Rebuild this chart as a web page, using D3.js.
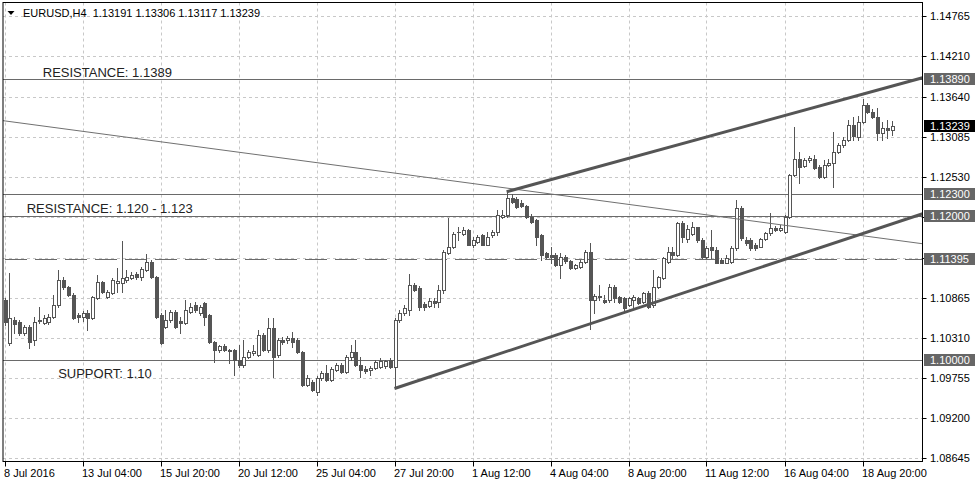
<!DOCTYPE html>
<html><head><meta charset="utf-8">
<script src="https://cdn.jsdelivr.net/npm/d3@7"></script>
<style>
html,body{margin:0;padding:0;background:#fff;}
svg{display:block;font-family:"Liberation Sans",Arial,sans-serif;}
</style></head><body>
<svg id="c" width="975" height="488"></svg>
<script>
// ---- DATA (EURUSD H4, 8 Jul 2016 12:00 .. 19 Aug 2016 20:00) ----
const symbol = "EURUSD,H4";
const openP = [1.1083,1.1024,1.1056,1.1053,1.1038,1.1046,1.1028,1.1054,1.1052,1.1053,
1.1060,1.1076,1.1111,1.1101,1.1090,1.1062,1.1060,1.1066,1.1059,1.1086,
1.1108,1.1088,1.1093,1.1107,1.1107,1.1111,1.1114,1.1120,1.1115,1.1125,
1.1136,1.1115,1.1063,1.1046,1.1056,1.1067,1.1054,1.1052,1.1067,1.1076,
1.1066,1.1079,1.1063,1.1025,1.1014,1.1020,1.1014,1.1014,1.1000,1.0994,
1.1005,1.1010,1.1007,1.1035,1.1014,1.1045,1.1007,1.1028,1.1028,1.1031,
1.1028,1.1011,1.0966,1.0970,1.0956,1.0976,1.0983,1.0973,1.0987,1.0994,
1.0984,1.1005,1.1011,1.0994,1.0988,1.0987,1.0989,1.0991,1.0992,1.1000,
1.0991,1.1056,1.1066,1.1070,1.1104,1.1100,1.1078,1.1075,1.1082,1.1081,
1.1097,1.1149,1.1156,1.1177,1.1175,1.1180,1.1160,1.1163,1.1173,1.1160,
1.1173,1.1177,1.1198,1.1201,1.1225,1.1223,1.1218,1.1213,1.1198,1.1194,
1.1173,1.1149,1.1146,1.1146,1.1132,1.1143,1.1137,1.1128,1.1129,1.1136,
1.1150,1.1083,1.1087,1.1083,1.1083,1.1102,1.1087,1.1086,1.1076,1.1083,
1.1086,1.1081,1.1093,1.1076,1.1101,1.1114,1.1136,1.1150,1.1146,1.1190,
1.1168,1.1174,1.1184,1.1167,1.1143,1.1156,1.1153,1.1139,1.1135,1.1136,
1.1155,1.1211,1.1167,1.1167,1.1160,1.1157,1.1168,1.1176,1.1183,1.1180,
1.1177,1.1198,1.1256,1.1278,1.1269,1.1277,1.1278,1.1267,1.1253,1.1270,
1.1273,1.1288,1.1298,1.1305,1.1326,1.1309,1.1330,1.1353,1.1343,1.1336,
1.1314,1.1321,1.13191];
const highP = [1.1086,1.1121,1.1060,1.1056,1.1049,1.1049,1.1060,1.1074,1.1063,1.1064,
1.1090,1.1125,1.1115,1.1103,1.1093,1.1066,1.1068,1.1070,1.1089,1.1118,
1.1110,1.1097,1.1114,1.1128,1.1165,1.1125,1.1122,1.1122,1.1129,1.1147,
1.1139,1.1117,1.1066,1.1070,1.1070,1.1070,1.1060,1.1083,1.1079,1.1081,
1.1076,1.1081,1.1064,1.1027,1.1021,1.1022,1.1015,1.1015,1.1021,1.1028,
1.1014,1.1021,1.1042,1.1038,1.1059,1.1059,1.1031,1.1032,1.1033,1.1039,
1.1031,1.1013,1.0980,1.0973,1.0978,1.0985,1.0994,1.0991,1.0996,1.0996,
1.1007,1.1021,1.1028,1.1005,1.0992,1.0992,1.1000,1.1003,1.1001,1.1003,
1.1059,1.1070,1.1076,1.1119,1.1107,1.1103,1.1081,1.1086,1.1086,1.1104,
1.1153,1.1197,1.1177,1.1184,1.1184,1.1181,1.1171,1.1173,1.1174,1.1177,
1.1180,1.1208,1.1208,1.1233,1.1230,1.1226,1.1221,1.1215,1.1202,1.1195,
1.1174,1.1150,1.1157,1.1149,1.1149,1.1146,1.1139,1.1133,1.1139,1.1153,
1.1162,1.1091,1.1104,1.1090,1.1105,1.1104,1.1089,1.1087,1.1087,1.1090,
1.1087,1.1094,1.1096,1.1125,1.1117,1.1143,1.1157,1.1157,1.1191,1.1192,
1.1187,1.1191,1.1185,1.1169,1.1158,1.1180,1.1156,1.1142,1.1146,1.1158,
1.1222,1.1213,1.1170,1.1169,1.1162,1.1169,1.1177,1.1204,1.1186,1.1187,
1.1201,1.1257,1.1323,1.1288,1.1280,1.1283,1.1284,1.1270,1.1277,1.1278,
1.1315,1.1300,1.1309,1.1332,1.1336,1.1338,1.1361,1.1356,1.1347,1.1349,
1.1330,1.1332,1.13306];
const lowP = [1.1049,1.1021,1.1038,1.1035,1.1035,1.1017,1.1021,1.1052,1.1050,1.1050,
1.1059,1.1074,1.1099,1.1089,1.1057,1.1053,1.1054,1.1042,1.1057,1.1085,
1.1093,1.1086,1.1092,1.1094,1.1094,1.1108,1.1113,1.1113,1.1111,1.1124,
1.1114,1.1059,1.1022,1.1045,1.1053,1.1045,1.1038,1.1050,1.1066,1.1067,
1.1063,1.1049,1.1024,1.0998,1.1011,1.1013,1.0996,1.0980,1.0991,1.0991,
1.1003,1.1007,1.1006,1.1013,1.1011,1.0977,1.1005,1.1022,1.1024,1.1018,
1.1010,1.0965,1.0965,1.0958,1.0952,1.0973,1.0971,1.0971,1.0985,1.0983,
1.0983,1.1000,1.0992,1.0977,1.0983,1.0980,1.0988,1.0989,1.0989,1.0989,
1.0962,1.1053,1.1063,1.1063,1.1096,1.1070,1.1070,1.1074,1.1074,1.1074,
1.1093,1.1147,1.1155,1.1166,1.1173,1.1159,1.1156,1.1162,1.1159,1.1159,
1.1171,1.1173,1.1197,1.1198,1.1218,1.1211,1.1212,1.1197,1.1190,1.1160,
1.1139,1.1142,1.1135,1.1131,1.1114,1.1135,1.1126,1.1126,1.1128,1.1135,
1.1043,1.1066,1.1083,1.1079,1.1081,1.1081,1.1079,1.1070,1.1075,1.1074,
1.1078,1.1079,1.1072,1.1074,1.1100,1.1113,1.1135,1.1142,1.1144,1.1164,
1.1163,1.1173,1.1164,1.1142,1.1142,1.1142,1.1134,1.1134,1.1134,1.1135,
1.1153,1.1166,1.1160,1.1153,1.1153,1.1156,1.1166,1.1173,1.1179,1.1179,
1.1176,1.1197,1.1255,1.1245,1.1267,1.1274,1.1264,1.1252,1.1252,1.1269,
1.1240,1.1287,1.1295,1.1303,1.1305,1.1305,1.1328,1.1342,1.1335,1.1305,
1.1305,1.1308,1.13117];
const closeP = [1.1053,1.1059,1.1050,1.1038,1.1046,1.1025,1.1053,1.1056,1.1059,1.1060,
1.1076,1.1111,1.1101,1.1090,1.1059,1.1060,1.1066,1.1059,1.1088,1.1108,
1.1094,1.1094,1.1111,1.1110,1.1114,1.1115,1.1118,1.1115,1.1126,1.1136,
1.1115,1.1060,1.1024,1.1056,1.1067,1.1046,1.1052,1.1070,1.1074,1.1070,
1.1074,1.1060,1.1025,1.1014,1.1020,1.1014,1.1013,1.1000,1.0994,1.1005,
1.1011,1.1013,1.1035,1.1014,1.1045,1.1005,1.1028,1.1025,1.1031,1.1025,
1.1011,1.0966,1.0976,1.0959,1.0976,1.0983,1.0973,1.0988,1.0994,1.0984,
1.1005,1.1011,1.0994,1.0987,1.0985,1.0989,1.0998,1.0999,1.0999,1.0991,
1.1056,1.1066,1.1072,1.1104,1.1097,1.1074,1.1074,1.1082,1.1079,1.1097,
1.1150,1.1157,1.1175,1.1178,1.1180,1.1160,1.1166,1.1171,1.1160,1.1171,
1.1177,1.1201,1.1201,1.1225,1.1219,1.1212,1.1213,1.1198,1.1191,1.1170,
1.1146,1.1143,1.1143,1.1132,1.1143,1.1137,1.1128,1.1132,1.1136,1.1150,
1.1083,1.1089,1.1089,1.1081,1.1102,1.1086,1.1081,1.1072,1.1086,1.1087,
1.1079,1.1093,1.1074,1.1101,1.1115,1.1142,1.1150,1.1146,1.1190,1.1170,
1.1182,1.1184,1.1166,1.1143,1.1155,1.1153,1.1135,1.1135,1.1142,1.1155,
1.1211,1.1169,1.1162,1.1155,1.1155,1.1168,1.1176,1.1183,1.1180,1.1183,
1.1198,1.1256,1.1278,1.1267,1.1277,1.1280,1.1266,1.1253,1.1270,1.1273,
1.1288,1.1298,1.1305,1.1326,1.1310,1.1330,1.1353,1.1343,1.1336,1.1314,
1.1321,1.1319,1.13239];

const timeTickBars = [0,16,32,48,64,80,96,112,128,144,160,176];
const timeTickLabels = ["8 Jul 2016","13 Jul 04:00","15 Jul 20:00","20 Jul 12:00","25 Jul 04:00",
  "27 Jul 20:00","1 Aug 12:00","4 Aug 04:00","8 Aug 20:00","11 Aug 12:00","16 Aug 04:00","18 Aug 20:00"];
const priceTicks = [1.14765,1.14210,1.13640,1.13085,1.12530,1.11975,1.11420,1.10865,1.10310,1.09755,1.09200,1.08645];

const solidLevels = [1.1389, 1.1230, 1.1200, 1.1000];
const dashedLevels = [1.11395];
const markedLevels = [1.13890, 1.12300, 1.12000, 1.11395, 1.10000];
const lastPrice = 1.13239;

// trend lines: [bar index, price]
const channelUpper = [[103, 1.1233], [188.5, 1.1391]];
const channelLower = [[80, 1.0961], [188.5, 1.1203]];
const diagonalThin = [[-1, 1.1332], [188.5, 1.1161]];

const noteTexts = ["RESISTANCE: 1.1389", "RESISTANCE: 1.120 - 1.123", "SUPPORT: 1.10"];
const noteBars = [7.85, 4.55, 11.0];
const notePrices = [1.1389, 1.1200, 1.1000];

// ---- LAYOUT ----
const W = 975, H = 488;
const L = 3, R = 922.5, T = 2.5, B = 461.5;
const svg = d3.select("#c");
svg.append("rect").attr("width", W).attr("height", H).attr("fill", "#fff");

const x = d3.scaleLinear().domain([0, 182]).range([4.5, 4.5 + 4.875 * 182]);
const y = d3.scaleLinear().domain([1.08645, 1.14765]).range([458.3, 15.7]);

svg.append("defs").append("clipPath").attr("id", "clip")
  .append("rect").attr("x", L).attr("y", T).attr("width", R - L).attr("height", B - T);

const plot = svg.append("g").attr("clip-path", "url(#clip)");

// grid
plot.selectAll("line.hg").data(priceTicks).join("line")
  .attr("x1", L).attr("x2", R)
  .attr("y1", d => Math.round(y(d)) + 0.5).attr("y2", d => Math.round(y(d)) + 0.5)
  .attr("stroke", "#c8c8c8").attr("stroke-dasharray", "3,3");
plot.selectAll("line.vg").data(timeTickBars).join("line")
  .attr("x1", d => Math.round(x(d)) + 0.5).attr("x2", d => Math.round(x(d)) + 0.5)
  .attr("y1", T).attr("y2", B)
  .attr("stroke", "#c8c8c8").attr("stroke-dasharray", "3,3");

// horizontal levels
plot.selectAll("line.lv").data(solidLevels).join("line")
  .attr("x1", L).attr("x2", R)
  .attr("y1", d => Math.round(y(d)) + 0.5).attr("y2", d => Math.round(y(d)) + 0.5)
  .attr("stroke", "#6a6a6a").attr("stroke-width", 1);
plot.selectAll("line.dl").data(dashedLevels).join("line")
  .attr("x1", L + 2).attr("x2", R)
  .attr("y1", d => Math.round(y(d)) + 0.5).attr("y2", d => Math.round(y(d)) + 0.5)
  .attr("stroke", "#6a6a6a").attr("stroke-width", 1).attr("stroke-dasharray", "22,8");

// candles
const candleCol = "#555";
const bars = d3.range(openP.length).map(i => ({i, o: openP[i], h: highP[i], l: lowP[i], c: closeP[i]}));
const cg = plot.append("g").attr("shape-rendering", "crispEdges");
bars.forEach(d => {
  const r = Math.round(x(d.i));
  const yH = Math.round(y(d.h)), yL = Math.round(y(d.l));
  const yT = Math.round(y(Math.max(d.o, d.c))), yB = Math.round(y(Math.min(d.o, d.c)));
  cg.append("rect").attr("x", r).attr("y", yH).attr("width", 1).attr("height", yL - yH + 1).attr("fill", candleCol);
  cg.append("rect").attr("x", r - 1).attr("y", yT).attr("width", 4).attr("height", yB - yT + 1).attr("fill", candleCol);
  if (d.c >= d.o && yB - yT >= 2) {
    cg.append("rect").attr("x", r).attr("y", yT + 1).attr("width", 2).attr("height", yB - yT - 1).attr("fill", "#fff");
  }
});

// trend lines
const pt = p => [x(p[0]), y(p[1])];
plot.append("line").attr("x1", pt(diagonalThin[0])[0]).attr("y1", pt(diagonalThin[0])[1])
  .attr("x2", pt(diagonalThin[1])[0]).attr("y2", pt(diagonalThin[1])[1])
  .attr("stroke", "#707070").attr("stroke-width", 1);
[channelUpper, channelLower].forEach(tl => {
  plot.append("line").attr("x1", pt(tl[0])[0]).attr("y1", pt(tl[0])[1])
    .attr("x2", pt(tl[1])[0]).attr("y2", pt(tl[1])[1])
    .attr("stroke", "#555").attr("stroke-width", 3);
});

// notes
const noteDy = [-2, -2.4, 18];
noteTexts.forEach((t, k) => {
  plot.append("text").attr("x", x(noteBars[k])).attr("y", y(notePrices[k]) + noteDy[k])
    .attr("font-size", 13).attr("fill", "#222").text(t);
});

// header
svg.append("path").attr("d", "M7.5,11 L14.5,11 L11,15 Z").attr("fill", "#000");
svg.append("text").attr("x", 23).attr("y", 17).attr("font-size", 11).attr("fill", "#000")
  .style("white-space", "pre")
  .text(symbol + "  " + [openP, highP, lowP, closeP].map(a => a[a.length - 1].toFixed(5)).join(" "));

// frame
svg.append("rect").attr("x", L).attr("y", T).attr("width", R - L).attr("height", B - T)
  .attr("fill", "none").attr("stroke", "#000").attr("stroke-width", 1);

// right axis
const ra = svg.append("g");
priceTicks.forEach(p => {
  const yy = Math.round(y(p)) + 0.5;
  ra.append("line").attr("x1", R).attr("x2", R + 4).attr("y1", yy).attr("y2", yy).attr("stroke", "#000");
  ra.append("text").attr("x", 930).attr("y", yy).attr("dy", "0.35em").attr("font-size", 11).attr("fill", "#000")
    .text(p.toFixed(5));
});
markedLevels.forEach(p => {
  const yy = Math.round(y(p));
  ra.append("rect").attr("x", 924).attr("y", yy - 6).attr("width", 51).attr("height", 12).attr("fill", "#666");
  ra.append("text").attr("x", 930).attr("y", yy + 0.5).attr("dy", "0.35em").attr("font-size", 11).attr("fill", "#fff")
    .text(p.toFixed(5));
});
{
  const yy = Math.round(y(lastPrice));
  ra.append("rect").attr("x", 924).attr("y", yy - 6).attr("width", 51).attr("height", 12).attr("fill", "#000");
  ra.append("text").attr("x", 930).attr("y", yy + 0.5).attr("dy", "0.35em").attr("font-size", 11).attr("fill", "#fff")
    .text(lastPrice.toFixed(5));
}

// bottom axis
const ba = svg.append("g");
timeTickBars.forEach((b, k) => {
  const xx = Math.round(x(b)) + 0.5;
  ba.append("line").attr("x1", xx).attr("x2", xx).attr("y1", B).attr("y2", B + 5).attr("stroke", "#000");
  ba.append("text").attr("x", xx - 1.5).attr("y", 477).attr("font-size", 11).attr("fill", "#000").text(timeTickLabels[k]);
});
</script>
</body></html>
